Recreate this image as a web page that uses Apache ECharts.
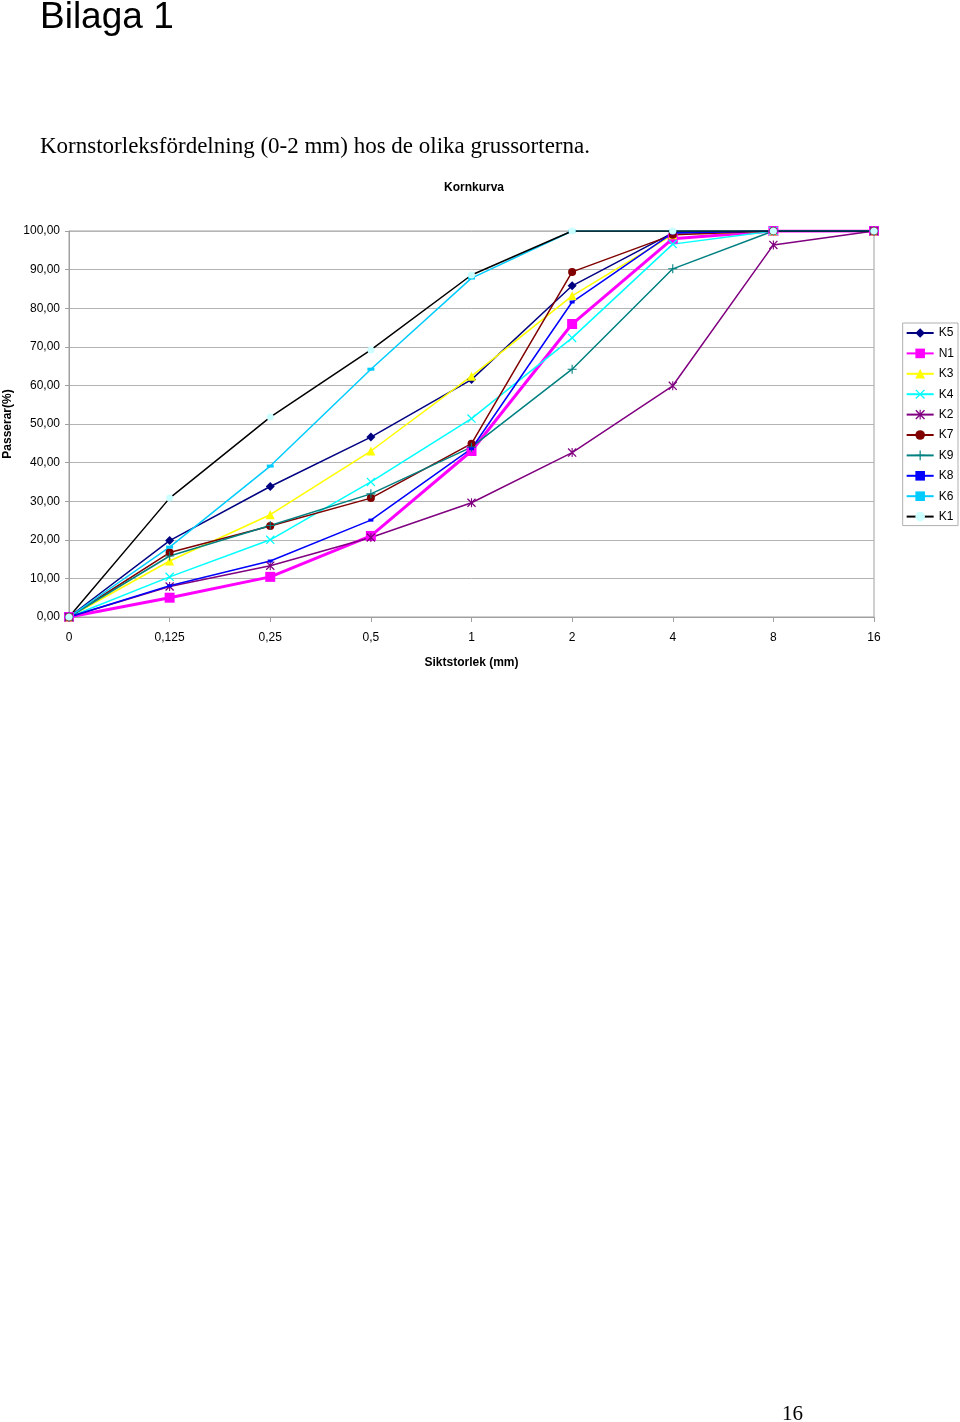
<!DOCTYPE html>
<html>
<head>
<meta charset="utf-8">
<script src="https://cdn.jsdelivr.net/npm/echarts@6/dist/echarts.min.js"></script>
<style>
  html,body{margin:0;padding:0;background:#fff;}
  #chart{width:960px;height:1422px;}
</style>
</head>
<body>
<div id="chart"></div>
<script>
'use strict';
// siktstorlekar (mm)
var sizes = ['0', '0,125', '0,25', '0,5', '1', '2', '4', '8', '16'];
var names = ['K5', 'N1', 'K3', 'K4', 'K2', 'K7', 'K9', 'K8', 'K6', 'K1'];
// passerande mängd (%) per grussort
var K5 = [0, 19.8, 33.8, 46.6, 61.5, 85.8, 99.5, 100, 100];
var N1 = [0, 5.0, 10.4, 21.0, 43.0, 75.9, 98.0, 100, 100];
var K3 = [0, 14.5, 26.5, 43.0, 62.4, 83.2, 99.0, 100, 100];
var K4 = [0, 10.4, 20.0, 35.0, 51.4, 72.3, 96.6, 100, 100];
var K2 = [0, 7.9, 13.3, 20.6, 29.6, 42.6, 59.9, 96.4, 100];
var K7 = [0, 16.7, 23.6, 30.8, 44.9, 89.4, 99.0, 100, 100];
var K9 = [0, 15.8, 23.7, 31.9, 44.0, 64.2, 90.2, 100, 100];
var K8 = [0, 8.1, 14.5, 25.1, 43.6, 81.6, 99.5, 100, 100];
var K6 = [0, 18.1, 39.1, 64.2, 87.8, 100, 100, 100, 100];
var K1 = [0, 30.8, 51.8, 69.2, 88.6, 100, 100, 100, 100];

var xPath = 'path://M0,1L1,0L10,9L9,10ZM9,0L10,1L1,10L0,9Z';
var plusPath = 'path://M4.4,0L5.6,0L5.6,10L4.4,10ZM0,4.4L10,4.4L10,5.6L0,5.6Z';
var starPath = 'path://M0,1L1,0L10,9L9,10ZM9,0L10,1L1,10L0,9ZM4.4,0L5.6,0L5.6,10L4.4,10Z';

function serie(name, data, color, symbol, size, width, markColor){
  return {
    name: name,
    type: 'line',
    data: data,
    symbol: symbol,
    symbolSize: size,
    showSymbol: true,
    animation: false,
    lineStyle: {color: color, width: width},
    itemStyle: {color: markColor || color},
    emphasis: {disabled: true}
  };
}

var chart = echarts.init(document.getElementById('chart'));
var option = {
  backgroundColor: '#fff',
  animation: false,
  title: [
    {text: 'Bilaga 1', left: 35, top: -6,
     textStyle: {fontFamily: 'Liberation Sans', fontSize: 37, fontWeight: 'normal', color: '#000'}},
    {text: 'Kornstorleksfördelning (0-2 mm) hos de olika grussorterna.', left: 35, top: 130,
     textStyle: {fontFamily: 'Liberation Serif', fontSize: 23, fontWeight: 'normal', color: '#000'}},
    {text: 'Kornkurva', left: 469, top: 177, textAlign: 'center',
     textStyle: {fontFamily: 'Liberation Sans', fontSize: 12, fontWeight: 'bold', color: '#000'}},
    {text: '16', left: 777, top: 1399,
     textStyle: {fontFamily: 'Liberation Serif', fontSize: 21, fontWeight: 'normal', color: '#000'}}
  ],
  legend: {
    orient: 'vertical',
    right: 2,
    top: 323,
    data: names,
    itemWidth: 27,
    itemHeight: 12,
    itemGap: 8.4,
    padding: [4, 4, 3, 3],
    borderColor: '#b0b0b0',
    borderWidth: 1,
    textStyle: {fontFamily: 'Liberation Sans', fontSize: 12, color: '#000'}
  },
  grid: {
    left: 69, right: 86, top: 231, bottom: 805,
    outerBoundsMode: 'none',
    containLabel: false,
    show: true, borderColor: '#a0a0a0', borderWidth: 1
  },
  xAxis: {
    type: 'category',
    data: sizes,
    boundaryGap: false,
    name: 'Siktstorlek (mm)',
    nameLocation: 'middle',
    nameGap: 40,
    nameMoveOverlap: false,
    nameTextStyle: {fontFamily: 'Liberation Sans', fontSize: 12, fontWeight: 'bold', color: '#000'},
    axisLine: {lineStyle: {color: '#a0a0a0'}},
    axisTick: {show: true, length: 5, alignWithLabel: true, lineStyle: {color: '#a0a0a0'}},
    axisLabel: {fontFamily: 'Liberation Sans', fontSize: 12, color: '#000', margin: 15},
    splitLine: {show: false}
  },
  yAxis: {
    type: 'value',
    min: 0, max: 100, interval: 10,
    name: 'Passerar(%)',
    nameLocation: 'middle',
    nameRotate: 90,
    nameGap: 55,
    nameMoveOverlap: false,
    nameTextStyle: {fontFamily: 'Liberation Sans', fontSize: 12, fontWeight: 'bold', color: '#000'},
    axisLine: {show: true, lineStyle: {color: '#a0a0a0'}},
    axisTick: {show: true, length: 4, lineStyle: {color: '#a0a0a0'}},
    axisLabel: {
      fontFamily: 'Liberation Sans', fontSize: 12, color: '#000', margin: 9,
      formatter: function(v){ return v.toFixed(2).replace('.', ','); }
    },
    splitLine: {show: true, lineStyle: {color: '#b4b4b4', width: 1}}
  },
  series: [
    serie('K5', K5, '#000080', 'diamond', 9, 1.5),
    serie('N1', N1, '#ff00ff', 'rect', 10, 3),
    serie('K3', K3, '#ffff00', 'triangle', 9, 1.5),
    serie('K4', K4, '#00ffff', xPath, 9, 1.5),
    serie('K2', K2, '#800080', starPath, 9, 1.5),
    serie('K7', K7, '#800000', 'circle', 8, 1.5),
    serie('K9', K9, '#008080', plusPath, 9, 1.5),
    serie('K8', K8, '#0000ff', 'rect', [5, 3], 1.5),
    serie('K6', K6, '#00ccff', 'rect', [7, 3], 1.5),
    serie('K1', K1, '#000000', 'circle', 7, 1.5, '#ccffff')
  ]
};
chart.setOption(option);
</script>
</body>
</html>
